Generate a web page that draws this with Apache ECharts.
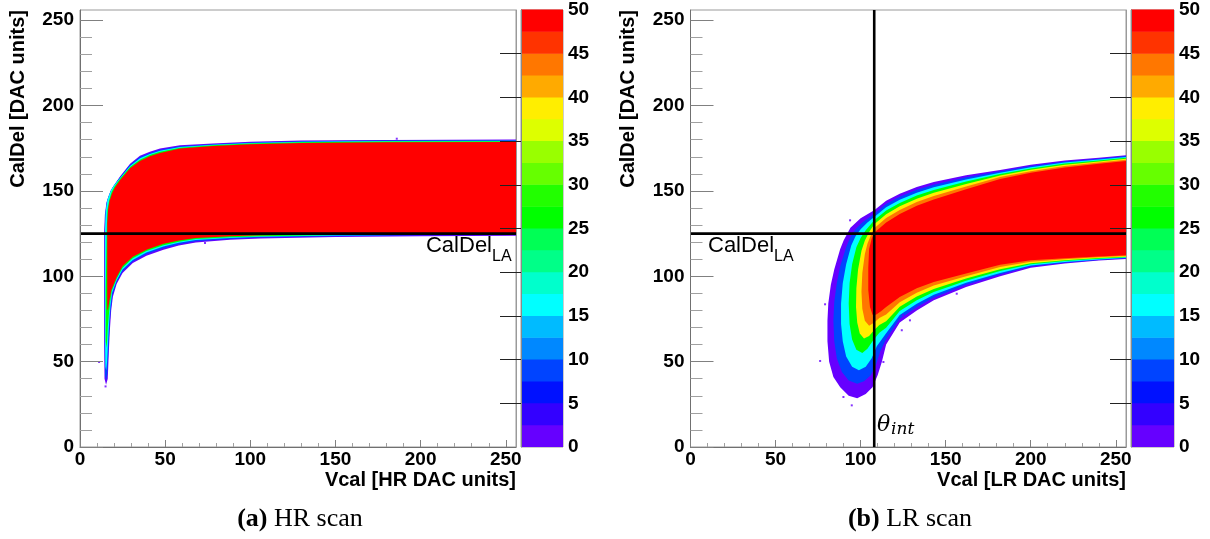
<!DOCTYPE html>
<html><head><meta charset="utf-8">
<script src="https://cdn.jsdelivr.net/npm/echarts@6/dist/echarts.min.js"></script>
<style>html,body{margin:0;padding:0;background:#fff}#c{width:1210px;height:539px}</style>
</head><body><div id="c"></div>
<script>
// ---------- tick values ----------
const majorTicks = [0, 50, 100, 150, 200, 250];
const minorTicks = [10,20,30,40,60,70,80,90,110,120,130,140,160,170,180,190,210,220,230,240];
const paletteLabels = [0,5,10,15,20,25,30,35,40,45,50];
const paletteTicks = [5,10,15,20,25,30,35,40,45];
const paletteLevels = [0,2.5,5,7.5,10,12.5,15,17.5,20,22.5,25,27.5,30,32.5,35,37.5,40,42.5,45,47.5];
const paletteColors = ['#6600ff','#3300ff','#0011ff','#0044ff','#0088ff','#00bbff','#00ffff','#00ffcc','#00ff88','#00ff55',
                       '#00ff00','#22ff00','#66ff00','#99ff00','#ddff00','#ffee00','#ffaa00','#ff7700','#ff3300','#ff0000'];

// ---------- reference values ----------
const calDelLA = 125;
const thetaInt = 108;

// ---------- (a) HR scan: contour edges [Vcal, CalDel] at count levels ----------
const hrLevels = [1, 9, 16, 26, 50];
const hrVioletTop = [[14.2,126],[14.6,136],[15.5,143],[16.6,146.5],[18,150],[19.6,152.8],[23.5,158.5],[29.4,166],[35.2,170.6],[41,173],[47,174.8],[58.7,176.7],[78,177.8],[100,178.8],[130,179.5],[180,179.9],[256,180.1]];
const hrVioletBot = [[14.2,60],[14.4,40],[15.3,36.5],[16.3,40],[16.9,55],[17.5,68],[18.3,80],[19.3,88],[21.5,95.5],[25,102],[31,107.8],[39,112],[49,115.5],[58,118],[68,119.8],[88,121.4],[106,122.2],[150,123],[200,123.5],[256,123.8]];
const hrBlueTop = [[14.5,127],[14.9,137],[15.8,144],[16.9,147.2],[18.2,150.5],[19.8,153],[23.5,158],[29.4,165.3],[35.2,169.9],[41,172.3],[47,174.2],[58.7,176.2],[78,177.4],[100,178.4],[130,179.1],[180,179.5],[256,179.7]];
const hrBlueBot = [[14.5,60],[14.7,42],[15.4,39],[16.1,43],[16.7,57],[17.3,70],[18.1,81],[19.1,89],[21.5,96.5],[25,103],[31,108.7],[39,113],[49,116.5],[58,118.8],[68,120.5],[88,121.9],[106,122.7],[150,123.5],[200,124],[256,124.2]];
const hrCyanTop = [[14.7,128],[15.1,138],[16,144.5],[17.1,147.6],[18.4,150.8],[20,153.3],[23.5,157.6],[29.4,164.6],[35.2,169.1],[41,171.6],[47,173.5],[58.7,175.7],[78,177],[100,178.1],[130,178.8],[180,179.2],[256,179.4]];
const hrCyanBot = [[14.7,62],[14.9,47],[15.4,45],[15.9,50],[16.5,62],[17.1,73],[17.9,83],[18.9,90.5],[21.5,97.5],[25,104],[31,109.6],[39,114],[49,117.4],[58,119.6],[68,121.2],[88,122.4],[106,123.1],[150,123.9],[200,124.4],[256,124.6]];
const hrGreenTop = [[15.1,92],[15.4,110],[15.7,128],[16.1,139],[17.2,145],[18.6,149.5],[20.2,152.5],[23.5,157.2],[29.4,164],[35.2,168.3],[41,171],[47,173],[58.7,175.3],[78,176.7],[100,177.8],[130,178.5],[180,178.9],[256,179.1]];
const hrGreenBot = [[15.1,62],[15.5,58],[15.9,62],[16.3,70],[16.9,77],[17.7,85],[18.7,91.5],[21.5,98.5],[25,105],[31,110.6],[39,114.8],[49,118.2],[58,120.3],[68,121.8],[88,122.9],[106,123.5],[150,124.2],[200,124.7],[256,124.9]];
const hrRedTop = [[16,131],[16.5,139],[17.3,144],[18.8,148.5],[20.5,152],[23.5,156.3],[29.4,163.3],[35.2,167.5],[41,170.3],[47,172.3],[58.7,174.8],[78,176.3],[100,177.4],[130,178.1],[180,178.5],[256,178.7]];
const hrRedBot = [[16,80],[16.5,81],[17.3,86],[18.4,92],[21.5,99.5],[25,106],[31,111.5],[39,115.6],[49,119],[58,121],[68,122.4],[88,123.4],[106,124],[150,124.6],[200,125],[256,125.2]];
const hrStray = [[11.2,49.8],[15,35.5],[73.4,119.5],[186,180.6]];

// ---------- (b) LR scan: contour edges ----------
const lrLevels = [1, 9, 16, 26, 38, 44, 50];
const lrVioletTop = [[88,116],[90,121],[94,128.5],[100,134],[108,138.7],[115,144.3],[123,148.4],[133,152.3],[143,155.2],[162,159.2],[182,162.3],[200,165.3],[220,167.9],[240,169.4],[256,170.9]];
const lrVioletBot = [[88,116],[84.5,104],[82.5,95],[81,84],[80.5,74],[80.5,62],[81.5,50],[84,41],[88,35],[93,30],[98,28.5],[103,31],[107,35],[110,42],[112.5,50],[115,60],[123,73],[133,80],[143,86],[162,93.8],[182,100],[200,105],[220,107.5],[240,109.2],[256,110.2]];
const lrBlueTop = [[91.5,117],[94,123],[97,127.5],[101,131.5],[108,136.7],[115,142.4],[123,146.6],[133,150.7],[143,153.7],[162,158],[182,161.5],[200,164.6],[220,167.3],[240,168.9],[256,170.4]];
const lrBlueBot = [[91.5,117],[88,106],[86,96],[84.5,85],[84,74],[84.5,62],[86,52],[89,44],[93,39],[98,37],[102,38.5],[106,42],[109,48],[111.5,56],[115,63.3],[123,75.2],[133,82],[143,87.6],[162,95],[182,101],[200,105.7],[220,108],[240,109.6],[256,110.5]];
const lrCyanTop = [[94.5,118],[97,123.5],[100,127.5],[104,131.5],[108,134.7],[115,140.5],[123,144.8],[133,149],[143,152.1],[162,156.7],[182,160.7],[200,163.9],[220,166.7],[240,168.4],[256,169.9]];
const lrCyanBot = [[94.5,118],[91.5,107],[89.5,96],[88.5,84],[88.5,72],[89.5,62],[91.5,53],[95,47],[99,45],[103,47],[106.5,52],[109.5,59],[115,66.6],[123,77.4],[133,83.9],[143,89.2],[162,96.2],[182,102],[200,106.3],[220,108.4],[240,109.9],[256,110.8]];
const lrGreenTop = [[97.5,117],[100,122.5],[103,127],[108,132.8],[115,138.5],[123,143],[133,147.4],[143,150.6],[162,155.5],[182,159.9],[200,163.2],[220,166.1],[240,167.9],[256,169.4]];
const lrGreenBot = [[97.5,117],[95,107],[93.5,96],[93,84],[93.5,72],[95,63],[97.5,57],[101,55],[104,57.5],[107,62],[111,67],[115,69.9],[123,79.7],[133,85.9],[143,90.8],[162,97.4],[182,103.1],[200,107],[220,108.9],[240,110.3],[256,111.1]];
const lrYellowTop = [[100.5,115],[102.5,121],[105,126],[108,130.5],[115,136.4],[123,141],[133,145.5],[143,148.9],[162,154.1],[182,159],[200,162.4],[220,165.4],[240,167.3],[256,168.9]];
const lrYellowBot = [[100.5,115],[98.5,104],[97.5,93],[97.3,82],[98,73],[99.5,66.5],[102,63.5],[105,65],[108,68.5],[111,71.5],[115,73.6],[123,82.2],[133,88.1],[143,92.6],[162,98.7],[182,104.2],[200,107.7],[220,109.4],[240,110.7],[256,111.5]];
const lrOrangeTop = [[102.5,113],[104,119],[106,124],[108,128.1],[115,134.1],[123,138.9],[133,143.5],[143,147],[162,152.6],[182,158.1],[200,161.5],[220,164.6],[240,166.7],[256,168.3]];
const lrOrangeBot = [[102.5,113],[101,102],[100.5,91],[101,81],[102.5,74],[105,71],[108,73],[111,75.5],[115,77.6],[123,84.8],[133,90.4],[143,94.6],[162,100.1],[182,105.4],[200,108.5],[220,110],[240,111.1],[256,111.9]];
const lrRedTop = [[105,116],[106.5,122],[108,125.5],[115,131.5],[123,136.5],[133,141.3],[143,145],[162,151],[182,157],[200,160.6],[220,163.8],[240,166],[256,167.6]];
const lrRedBot = [[105,116],[104.5,105],[104.5,92],[105.5,82],[107,77.5],[109,77.5],[112,79.5],[115,82],[123,87.8],[133,93],[143,96.7],[162,101.7],[182,106.8],[200,109.4],[220,110.6],[240,111.6],[256,112.3]];
const lrStray = [[76.2,50.4],[79.1,83.6],[94.8,24.4],[89.9,29.3],[93.8,132.8],[113.4,49.8],[156.5,89.8],[129,74.2],[124.9,77.2],[124.2,68.4]];

// ---------- build ----------
const SANS = '"Liberation Sans", Arial, Helvetica, sans-serif';
const labelStyle = {fontFamily: SANS, fontWeight: 'bold', fontSize: 19, color: '#000'};

function levelColor(v) { return paletteColors[Math.min(19, Math.floor(v / 2.5))]; }

function contour(top, bot, level, xi, yi) {
  const pts = top.concat(bot.slice().reverse());
  const color = levelColor(level);
  return {
    type: 'custom', xAxisIndex: xi, yAxisIndex: yi, clip: true, silent: true,
    data: pts,
    renderItem: function (params, api) {
      if (params.dataIndex !== 0) return null;
      return {type: 'polygon', shape: {points: pts.map(p => api.coord(p))}, style: {fill: color}};
    }
  };
}
function stray(data, xi, yi) {
  return {type: 'scatter', xAxisIndex: xi, yAxisIndex: yi, symbol: 'rect', symbolSize: 2,
    itemStyle: {color: paletteColors[0]}, data: data, silent: true, clip: true};
}
function refLine(data, xi, yi) {
  return {type: 'line', xAxisIndex: xi, yAxisIndex: yi, data: data, symbol: 'none', silent: true,
    lineStyle: {color: '#000', width: 2.6}, z: 4};
}
function paletteSeries(xi, yi) {
  return {
    type: 'custom', xAxisIndex: xi, yAxisIndex: yi, silent: true,
    data: paletteLevels.map(lo => [0.5, lo]),
    renderItem: function (params, api) {
      const lo = api.value(1);
      const p0 = api.coord([0, lo]);
      const p1 = api.coord([1, lo + 2.5]);
      return {type: 'rect', shape: {x: p0[0], y: p1[1] - 0.5, width: p1[0] - p0[0], height: p0[1] - p1[1] + 0.5},
        style: {fill: paletteColors[params.dataIndex]}};
    }
  };
}

function xMajor(g) {
  return {type: 'value', gridIndex: g, min: 0, max: 256, position: 'bottom', z: 5,
    axisLine: {show: true, lineStyle: {color: '#707070', width: 1}},
    axisTick: {show: true, inside: true, length: 7, customValues: majorTicks, lineStyle: {color: '#808080'}},
    axisLabel: Object.assign({margin: 3, customValues: majorTicks}, labelStyle),
    splitLine: {show: false}};
}
function xMinor(g) {
  return {type: 'value', gridIndex: g, min: 0, max: 256, position: 'bottom', z: 5,
    axisLine: {show: false},
    axisTick: {show: true, inside: true, length: 4, customValues: minorTicks, lineStyle: {color: '#a0a0a0'}},
    axisLabel: {show: false}, splitLine: {show: false}};
}
function yMajor(g) {
  return {type: 'value', gridIndex: g, min: 0, max: 256, position: 'left', z: 5,
    axisLine: {show: true, lineStyle: {color: '#707070', width: 1}},
    axisTick: {show: true, inside: true, length: 23, customValues: majorTicks, lineStyle: {color: '#808080'}},
    axisLabel: Object.assign({margin: 6, customValues: majorTicks}, labelStyle),
    splitLine: {show: false}};
}
function yMinor(g) {
  return {type: 'value', gridIndex: g, min: 0, max: 256, position: 'left', z: 5,
    axisLine: {show: false},
    axisTick: {show: true, inside: true, length: 12, customValues: minorTicks, lineStyle: {color: '#a0a0a0'}},
    axisLabel: {show: false}, splitLine: {show: false}};
}
function yFrame(g) {
  return {type: 'value', gridIndex: g, min: 0, max: 256, position: 'right', z: 5,
    axisLine: {show: true, lineStyle: {color: '#9a9a9a', width: 1}},
    axisTick: {show: false}, axisLabel: {show: false}, splitLine: {show: false}};
}
function xPal(g) {
  return {type: 'value', gridIndex: g, min: 0, max: 1, show: false, splitLine: {show: false}};
}
function yPal(g) {
  return {type: 'value', gridIndex: g, min: 0, max: 50, position: 'right', z: 10,
    axisLine: {show: true, lineStyle: {color: '#8a8a8a', width: 1}},
    axisTick: {show: true, inside: true, length: 21, customValues: paletteTicks, lineStyle: {color: '#222'}},
    axisLabel: Object.assign({margin: 5, customValues: paletteLabels}, labelStyle),
    splitLine: {show: false}};
}

const gridBase = {show: true, borderColor: '#9a9a9a', borderWidth: 1, backgroundColor: '#fff', containLabel: false, outerBoundsMode: 'none'};

const series = [];
// left panel (x axis 0, y axis 0)
const hrTops = [hrVioletTop, hrBlueTop, hrCyanTop, hrGreenTop, hrRedTop];
const hrBots = [hrVioletBot, hrBlueBot, hrCyanBot, hrGreenBot, hrRedBot];
hrLevels.forEach((lv, i) => series.push(contour(hrTops[i], hrBots[i], lv, 0, 0)));
series.push(stray(hrStray, 0, 0));
series.push(refLine([[0, calDelLA], [256, calDelLA]], 0, 0));
// right panel (x axis 3, y axis 4)
const lrTops = [lrVioletTop, lrBlueTop, lrCyanTop, lrGreenTop, lrYellowTop, lrOrangeTop, lrRedTop];
const lrBots = [lrVioletBot, lrBlueBot, lrCyanBot, lrGreenBot, lrYellowBot, lrOrangeBot, lrRedBot];
lrLevels.forEach((lv, i) => series.push(contour(lrTops[i], lrBots[i], lv, 3, 4)));
series.push(stray(lrStray, 3, 4));
series.push(refLine([[0, calDelLA], [256, calDelLA]], 3, 4));
series.push(refLine([[thetaInt, 0], [thetaInt, 256]], 3, 4));
// palettes
series.push(paletteSeries(2, 3));
series.push(paletteSeries(5, 7));

function txt(x, y, text, font, align, extra) {
  return Object.assign({type: 'text', x: x, y: y, silent: true, z: 100,
    style: Object.assign({text: text, fill: '#000', align: align, textAlign: align, verticalAlign: 'middle', textVerticalAlign: 'middle'}, font)}, extra || {});
}
const boldT = {fontFamily: SANS, fontWeight: 'bold', fontSize: 20};
const regT = {fontFamily: SANS, fontWeight: 'normal', fontSize: 22};
const subT = {fontFamily: SANS, fontWeight: 'normal', fontSize: 16};
const SERIF = '"Liberation Serif", "DejaVu Serif", serif';

function caption(x, tag, rest) {
  return {type: 'text', x: x, y: 519, silent: true, z: 100,
    style: {text: '{b|' + tag + '}{n| ' + rest + '}', align: 'center', textAlign: 'center', verticalAlign: 'middle', textVerticalAlign: 'middle',
      fontFamily: SERIF, fontSize: 26, fill: '#000',
      rich: {b: {fontFamily: SERIF, fontSize: 26, fontWeight: 'bold', fill: '#000'},
             n: {fontFamily: SERIF, fontSize: 26, fontWeight: 'normal', fill: '#000'}}}};
}

const graphic = [
  txt(18, 10, 'CalDel [DAC units]', boldT, 'right', {rotation: Math.PI / 2}),
  txt(628, 10, 'CalDel [DAC units]', boldT, 'right', {rotation: Math.PI / 2}),
  txt(516, 480, 'Vcal [HR DAC units]', boldT, 'right'),
  txt(1126, 480, 'Vcal [LR DAC units]', boldT, 'right'),
  txt(492, 246, 'CalDel', regT, 'right'),
  txt(492, 257, 'LA', subT, 'left'),
  txt(708, 246, 'CalDel', regT, 'left'),
  txt(774, 257, 'LA', subT, 'left'),
  txt(877, 425, 'θ', {fontFamily: '"DejaVu Serif", serif', fontStyle: 'italic', fontSize: 22}, 'left'),
  txt(891, 430, 'int', {fontFamily: '"DejaVu Serif", serif', fontStyle: 'italic', fontSize: 17}, 'left'),
  caption(300, '(a)', 'HR scan'),
  caption(910, '(b)', 'LR scan')
];

const option = {
  animation: false,
  backgroundColor: '#fff',
  grid: [
    Object.assign({left: 80, top: 10, width: 436, height: 437}, gridBase),
    Object.assign({left: 521, top: 10, width: 42, height: 437}, gridBase),
    Object.assign({left: 690.5, top: 10, width: 435.5, height: 437}, gridBase),
    Object.assign({left: 1131, top: 10, width: 43, height: 437}, gridBase)
  ],
  xAxis: [xMajor(0), xMinor(0), xPal(1), xMajor(2), xMinor(2), xPal(3)],
  yAxis: [yMajor(0), yMinor(0), yFrame(0), yPal(1), yMajor(2), yMinor(2), yFrame(2), yPal(3)],
  series: series,
  graphic: graphic
};

const chart = echarts.init(document.getElementById('c'), null, {renderer: 'canvas', width: 1210, height: 539});
chart.setOption(option);
</script>
</body></html>
